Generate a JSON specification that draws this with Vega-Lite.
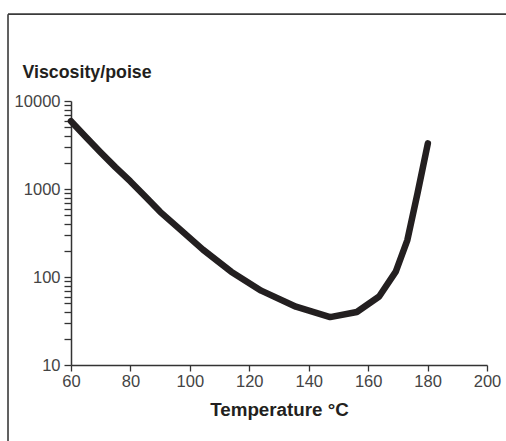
{
  "$schema": "https://vega.github.io/schema/vega-lite/v6.json",
  "width": 416,
  "height": 264,
  "autosize": {"type": "none"},
  "padding": {"left": 71, "top": 101, "right": 19, "bottom": 76},
  "background": "white",
  "config": {"view": {"stroke": null}, "font": "Liberation Sans"},
  "datasets": {
    "curve": [
      {"temp": 60, "visc": 5900},
      {"temp": 65, "visc": 3900},
      {"temp": 70, "visc": 2600},
      {"temp": 75, "visc": 1760},
      {"temp": 80, "visc": 1220},
      {"temp": 85, "visc": 820},
      {"temp": 90, "visc": 550},
      {"temp": 96.6, "visc": 350},
      {"temp": 104.4, "visc": 205},
      {"temp": 113.9, "visc": 115},
      {"temp": 124, "visc": 70},
      {"temp": 135.7, "visc": 46},
      {"temp": 147.2, "visc": 35},
      {"temp": 156.2, "visc": 40},
      {"temp": 163.7, "visc": 60},
      {"temp": 169.3, "visc": 115},
      {"temp": 173.2, "visc": 263},
      {"temp": 176.6, "visc": 890},
      {"temp": 180.1, "visc": 3300}
    ],
    "frame": [
      {"x1": 38.8, "x2": 215, "y1": 97000, "y2": 97000},
      {"x1": 38.8, "x2": 38.8, "y1": 97000, "y2": 1}
    ]
  },
  "layer": [
    {
      "data": {"name": "frame"},
      "mark": {"type": "rule", "color": "#3a3a3a", "strokeWidth": 1.6, "clip": false},
      "encoding": {
        "x": {"field": "x1", "type": "quantitative", "scale": {"domain": [60, 200], "nice": false, "zero": false}},
        "x2": {"field": "x2"},
        "y": {"field": "y1", "type": "quantitative", "scale": {"type": "log", "domain": [10, 10000], "nice": false}},
        "y2": {"field": "y2"}
      }
    },
    {
      "data": {"name": "curve"},
      "mark": {"type": "line", "color": "#231f20", "strokeWidth": 6.5, "strokeCap": "round", "strokeJoin": "round", "clip": false},
      "encoding": {
        "x": {
          "field": "temp", "type": "quantitative",
          "scale": {"domain": [60, 200], "nice": false, "zero": false},
          "axis": {
            "values": [60, 80, 100, 120, 140, 160, 180, 200],
            "title": "Temperature °C",
            "titleFont": "Liberation Sans", "titleFontSize": 18.8, "titleFontWeight": "bold", "titleColor": "#231f20",
            "titleY": 50, "titleBaseline": "alphabetic",
            "labelFontSize": 16.5, "labelColor": "#444444", "labelPadding": 2, "labelFlush": false,
            "tickSize": 6, "tickColor": "#333333", "tickWidth": 1.3,
            "domainColor": "#333333", "domainWidth": 1.5,
            "grid": false
          }
        },
        "y": {
          "field": "visc", "type": "quantitative",
          "scale": {"type": "log", "domain": [10, 10000], "nice": false},
          "axis": {
            "values": [10, 20, 30, 40, 50, 60, 70, 80, 90, 100, 200, 300, 400, 500, 600, 700, 800, 900, 1000, 2000, 3000, 4000, 5000, 6000, 7000, 8000, 9000, 10000],
            "labelExpr": "indexof([10, 100, 1000, 10000], datum.value) >= 0 ? format(datum.value, 'd') : ''",
            "labelOverlap": false,
            "title": "Viscosity/poise",
            "titleAngle": 0, "titleAlign": "left", "titleBaseline": "alphabetic",
            "titleX": -49, "titleY": -24,
            "titleFont": "Liberation Sans", "titleFontSize": 17.8, "titleFontWeight": "bold", "titleColor": "#231f20",
            "labelFontSize": 16.5, "labelColor": "#444444", "labelPadding": 4,
            "tickSize": 7, "tickColor": "#333333", "tickWidth": 1.3,
            "domainColor": "#333333", "domainWidth": 1.5,
            "grid": false
          }
        }
      }
    }
  ]
}
